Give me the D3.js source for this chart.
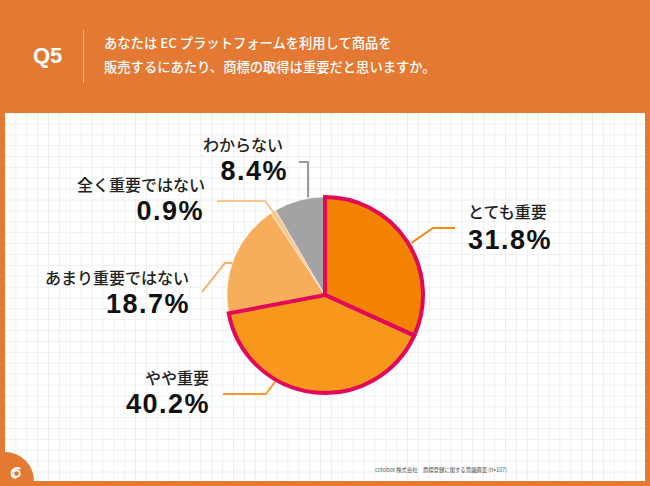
<!DOCTYPE html>
<html><head><meta charset="utf-8">
<script src="https://cdn.jsdelivr.net/npm/d3@7/dist/d3.min.js"></script>
<style>body{margin:0;padding:0;background:#fff}svg{display:block}</style>
</head><body>
<svg id="c" width="650" height="486"></svg>
<script>
// ---- data ----
const categories = ["とても重要", "やや重要", "あまり重要ではない", "全く重要ではない", "わからない"];
const values = [31.8, 40.2, 18.7, 0.9, 8.4];
const highlighted = [true, true, false, false, false];
const questionNo = "Q5";
const titleLines = ["あなたは EC プラットフォームを利用して商品を", "販売するにあたり、商標の取得は重要だと思いますか。"];
const sourceText = "cotobox 株式会社　商標登録に関する意識調査 (n=107)";

// ---- styles ----
const sliceColors = ["#F38200", "#F7981D", "#F6AE5A", "#F9C690", "#A3A3A3"];
const lineColors = ["#F28A12", "#F39A28", "#F6B064", "#F9C690", "#9A9A9A"];
const hiStroke = "#E2085A";
const orange = "#E47933";

const svg = d3.select("#c");
const W = 650, H = 486;

// background frame
svg.append("rect").attr("width", W).attr("height", H).attr("fill", orange);
const panel = {x: 5, y: 113, w: 640, h: 368};
svg.append("rect").attr("x", panel.x).attr("y", panel.y).attr("width", panel.w).attr("height", panel.h).attr("fill", "#fff");

// grid
const gstep = 10.88;
const grid = svg.append("g").attr("stroke", "#EEF0F0").attr("stroke-width", 1);
for (let x = panel.x + gstep; x < panel.x + panel.w; x += gstep) {
  grid.append("line").attr("x1", x).attr("x2", x).attr("y1", panel.y).attr("y2", panel.y + panel.h);
}
for (let y = panel.y + gstep; y < panel.y + panel.h; y += gstep) {
  grid.append("line").attr("y1", y).attr("y2", y).attr("x1", panel.x).attr("x2", panel.x + panel.w);
}

// bottom-left corner decoration + logo
svg.append("path")
  .attr("d", d3.arc()({innerRadius: 0, outerRadius: 29, startAngle: 0, endAngle: Math.PI / 2}))
  .attr("transform", `translate(${panel.x},${panel.y + panel.h})`)
  .attr("fill", orange);
const logo = svg.append("g").attr("transform", "translate(16,473)").attr("fill", "none").attr("stroke", "#fff").attr("stroke-width", 1.8);
logo.append("circle").attr("r", 3.2).attr("cx", 0.5).attr("cy", 0.5);
logo.append("path").attr("d", "M4.5,-4.2 C1,-6 -4.5,-4.5 -4.5,0.5 C-4.5,4 -2,5 0.5,5");

// header
svg.append("text").attr("x", 33).attr("y", 63).text(questionNo)
  .attr("fill", "#fff").attr("font-family", "Liberation Sans, Arial, sans-serif")
  .attr("font-weight", "bold").attr("font-size", 22);
svg.append("line").attr("x1", 83.5).attr("x2", 83.5).attr("y1", 30).attr("y2", 83)
  .attr("stroke", "#F3B58C").attr("stroke-width", 1);
titleLines.forEach((t, i) => {
  svg.append("text").attr("x", 104).attr("y", 48 + i * 24).text(t)
    .attr("fill", "#fff").attr("font-family", "Noto Sans CJK JP, sans-serif")
    .attr("font-weight", 500).attr("font-size", 13.3);
});

// footer
svg.append("text").attr("x", 507).attr("y", 472).attr("text-anchor", "end").text(sourceText)
  .attr("fill", "#555").attr("font-family", "Noto Sans CJK JP, sans-serif").attr("font-size", 6)
  .attr("textLength", 132).attr("lengthAdjust", "spacingAndGlyphs");

// pie
const cx = 325, cy = 295, R = 98;
const pie = d3.pie().sort(null).value(d => d)(values);
const arc = d3.arc().innerRadius(0).outerRadius(R);
const pg = svg.append("g").attr("transform", `translate(${cx},${cy})`);
const order = pie.map((p, i) => i).sort((a, b) => (highlighted[a] ? 1 : 0) - (highlighted[b] ? 1 : 0));
order.forEach(i => {
  pg.append("path").attr("d", arc(pie[i])).attr("fill", sliceColors[i])
    .attr("stroke", highlighted[i] ? hiStroke : "#fff")
    .attr("stroke-width", highlighted[i] ? 4 : 0.5)
    .attr("stroke-linejoin", "miter");
});

// labels & leaders (layout only)
const layout = [
  {ang: 58.9, r: 101, pts: [[433, 228], [455, 228]], anchor: "start", lx: 468, ly: 218, px: 468, py: 249},
  {ang: 209.9, r: 100, pts: [[266, 394], [223, 394]], anchor: "end", lx: 209, ly: 384, px: 210, py: 413},
  {ang: 289, r: 98, pts: [[225, 263], [202, 292]], anchor: "end", lx: 189, ly: 284, px: 190, py: 313},
  {ang: null, r: 96, pts: [[265, 201], [217, 201]], anchor: "end", lx: 205, ly: 191, px: 204, py: 220},
  {ang: 350, r: 99, pts: [[308, 162], [299, 162]], anchor: "end", lx: 283, ly: 151, px: 288, py: 180}
];
const ann = svg.append("g");
layout.forEach((L, i) => {
  const a = L.ang === null ? (pie[i].startAngle + pie[i].endAngle) / 2 : L.ang * Math.PI / 180;
  const start = [cx + L.r * Math.sin(a), cy - L.r * Math.cos(a)];
  if (i === 4) start[0] = L.pts[0][0];
  const pts = [start].concat(L.pts);
  ann.append("path").attr("d", d3.line()(pts)).attr("fill", "none")
    .attr("stroke", lineColors[i]).attr("stroke-width", 2);
  ann.append("text").attr("x", L.lx).attr("y", L.ly).attr("text-anchor", L.anchor)
    .text(categories[i]).attr("fill", "#222")
    .attr("font-family", "Noto Sans CJK JP, sans-serif").attr("font-weight", 500).attr("font-size", 16);
  ann.append("text").attr("x", L.px).attr("y", L.py).attr("text-anchor", L.anchor)
    .text(values[i].toFixed(1) + "%").attr("fill", "#111")
    .attr("font-family", "Liberation Sans, Arial, sans-serif").attr("font-weight", "bold")
    .attr("font-size", 27).attr("letter-spacing", 1.5);
});
</script>
</body></html>
